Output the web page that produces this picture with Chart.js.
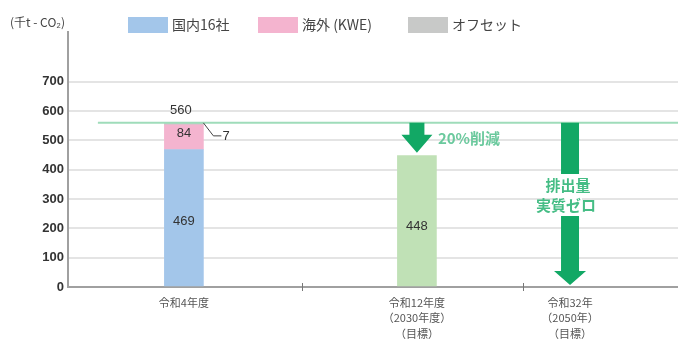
<!DOCTYPE html>
<html lang="ja">
<head>
<meta charset="utf-8">
<script src="https://cdn.jsdelivr.net/npm/chart.js@4"></script>
<style>
    html, body { margin: 0; padding: 0; background: #fff; }
    #wrap { width: 678px; height: 342px; }
</style>
</head>
<body>
<div id="wrap"><canvas id="myChart" width="678" height="342"></canvas></div>
<script>
'use strict';
//Data
const categories = [
    '令和4年度',
    ['令和12年度', '（2030年度）', '（目標）'],
    ['令和32年', '（2050年）', '（目標）'],
];
const domestic = [469, null, null];
const overseas = [84, null, null];
const offset = [7, null, null];
const target = [null, 448, null];
const yTicks = [0, 100, 200, 300, 400, 500, 600, 700];
const legendLabels = ['国内16社', '海外 (KWE)', 'オフセット'];

//Layout (x axis runs 0..10)
const slotX = [1.9, 5.72, 8.23];
const sepX = [3.84, 7.46];

const fontJP = '"Noto Sans CJK JP", "Liberation Sans", sans-serif';
const fontNum = '"Liberation Sans", Arial, sans-serif';
const colors = ['#a3c6ea', '#f4b4cf', '#c8c9c8'];
const green = '#12a865';

function pts(arr) {
    return arr.map((v, i) => (v === null ? null : { x: slotX[i], y: v })).filter(Boolean);
}

function drawArrow(ctx, x, y0, y1, sw, hw, hl) {
    ctx.beginPath();
    ctx.moveTo(x - sw / 2, y0);
    ctx.lineTo(x + sw / 2, y0);
    ctx.lineTo(x + sw / 2, y1 - hl);
    ctx.lineTo(x + hw / 2, y1 - hl);
    ctx.lineTo(x, y1);
    ctx.lineTo(x - hw / 2, y1 - hl);
    ctx.lineTo(x - sw / 2, y1 - hl);
    ctx.closePath();
    ctx.fillStyle = green;
    ctx.fill();
}

const extras = {
    id: 'extras',
    afterDatasetsDraw(chart) {
        const ctx = chart.ctx;
        const xs = chart.scales.x;
        const ys = chart.scales.y;
        const total = domestic[0] + overseas[0] + offset[0];
        const yTop = ys.getPixelForValue(total);
        ctx.save();

        //baseline line
        ctx.strokeStyle = '#9fdcba';
        ctx.lineWidth = 2;
        ctx.beginPath();
        ctx.moveTo(xs.getPixelForValue(0.49), yTop);
        ctx.lineTo(chart.chartArea.right, yTop);
        ctx.stroke();

        //separators on x axis
        ctx.strokeStyle = '#777';
        ctx.lineWidth = 1;
        sepX.forEach((v) => {
            const px = Math.round(xs.getPixelForValue(v)) + 0.5;
            ctx.beginPath();
            ctx.moveTo(px, ys.bottom - 4);
            ctx.lineTo(px, ys.bottom + 4);
            ctx.stroke();
        });

        //arrows
        const a1 = xs.getPixelForValue(slotX[1]);
        drawArrow(ctx, a1, yTop, ys.getPixelForValue(target[1]) - 3, 15, 31, 18);
        const a2 = xs.getPixelForValue(slotX[2]);
        drawArrow(ctx, a2, yTop, ys.bottom - 2, 18, 32, 14);

        ctx.textBaseline = 'middle';
        ctx.font = '600 15px ' + fontJP;
        ctx.fillStyle = '#6ac99d';
        ctx.textAlign = 'left';
        ctx.fillText('20%削減', a1 + 21, yTop + 15);

        ctx.fillStyle = '#fff';
        ctx.fillRect(a2 - 12, 174, 24, 42);
        ctx.fillStyle = '#45bd85';
        ctx.textAlign = 'center';
        ctx.fillText('排出量', a2 - 2, 185);
        ctx.fillText('実質ゼロ', a2 - 4, 205);

        //value labels
        ctx.font = '13px ' + fontNum;
        ctx.fillStyle = '#333';
        const b0 = chart.getDatasetMeta(0).data[0];
        const b1 = chart.getDatasetMeta(1).data[0];
        const b3 = chart.getDatasetMeta(3).data[0];
        ctx.fillText(String(domestic[0]), b0.x, (b0.y + b0.base) / 2 + 4);
        ctx.fillText(String(overseas[0]), b1.x, (b1.y + b1.base) / 2 - 4);
        ctx.fillText(String(total), b0.x - 3, yTop - 12);
        ctx.fillText(String(target[1]), b3.x, (b3.y + b3.base) / 2 + 6);

        //offset callout
        const rx = b0.x + b0.width / 2;
        ctx.strokeStyle = '#444';
        ctx.lineWidth = 1;
        ctx.beginPath();
        ctx.moveTo(rx, yTop);
        ctx.lineTo(rx + 10, yTop + 13);
        ctx.lineTo(rx + 18, yTop + 13);
        ctx.stroke();
        ctx.textAlign = 'left';
        ctx.fillText(String(offset[0]), rx + 19, yTop + 14);
        ctx.restore();
    },
    afterDraw(chart) {
        const ctx = chart.ctx;
        ctx.save();
        ctx.textBaseline = 'middle';
        ctx.textAlign = 'left';
        ctx.font = '12px ' + fontJP;
        ctx.fillStyle = '#444';
        ctx.fillText('(千t - CO₂)', 10, 22);

        const boxX = [128, 258, 408];
        ctx.font = '14px ' + fontJP;
        legendLabels.forEach((t, i) => {
            ctx.fillStyle = colors[i];
            ctx.fillRect(boxX[i], 17, 40, 16);
            ctx.fillStyle = '#444';
            ctx.fillText(t, boxX[i] + 44, 25);
        });
        ctx.restore();
    },
};

const config = {
    type: 'bar',
    data: {
        datasets: [
            { label: legendLabels[0], data: pts(domestic), backgroundColor: colors[0] },
            { label: legendLabels[1], data: pts(overseas), backgroundColor: colors[1] },
            { label: legendLabels[2], data: pts(offset), backgroundColor: colors[2] },
            { label: '目標', data: pts(target), backgroundColor: '#c0e1b6' },
        ],
    },
    options: {
        responsive: false,
        animation: false,
        layout: { padding: { top: 32, right: 0, left: 0, bottom: 0 } },
        datasets: { bar: { barThickness: 39 } },
        scales: {
            x: {
                type: 'linear',
                min: 0,
                max: 10,
                offset: false,
                stacked: true,
                afterBuildTicks: (s) => {
                    s.ticks = slotX.map((v) => ({ value: v }));
                },
                ticks: {
                    autoSkip: false,
                    maxRotation: 0,
                    padding: 0,
                    color: '#555',
                    font: { family: fontJP, size: 11, lineHeight: 1.4 },
                    callback: (v, i) => categories[i],
                },
                grid: { display: false },
                border: { color: '#a0a0a0', width: 2 },
                afterFit: (s) => {
                    s.height = 55;
                },
            },
            y: {
                min: 0,
                max: 870,
                stacked: true,
                afterBuildTicks: (s) => {
                    s.ticks = yTicks.map((v) => ({ value: v }));
                },
                ticks: {
                    padding: 4,
                    color: '#333',
                    font: { family: fontNum, size: 13, weight: 'bold' },
                },
                grid: { color: '#e4e4e4', lineWidth: 2, drawTicks: false },
                border: { color: '#a0a0a0', width: 2 },
                afterFit: (s) => {
                    s.width = 68;
                },
            },
        },
        plugins: {
            legend: { display: false },
            tooltip: { enabled: false },
        },
    },
    plugins: [extras],
};
const myChart = new Chart(document.getElementById('myChart'), config);
</script>
</body>
</html>
